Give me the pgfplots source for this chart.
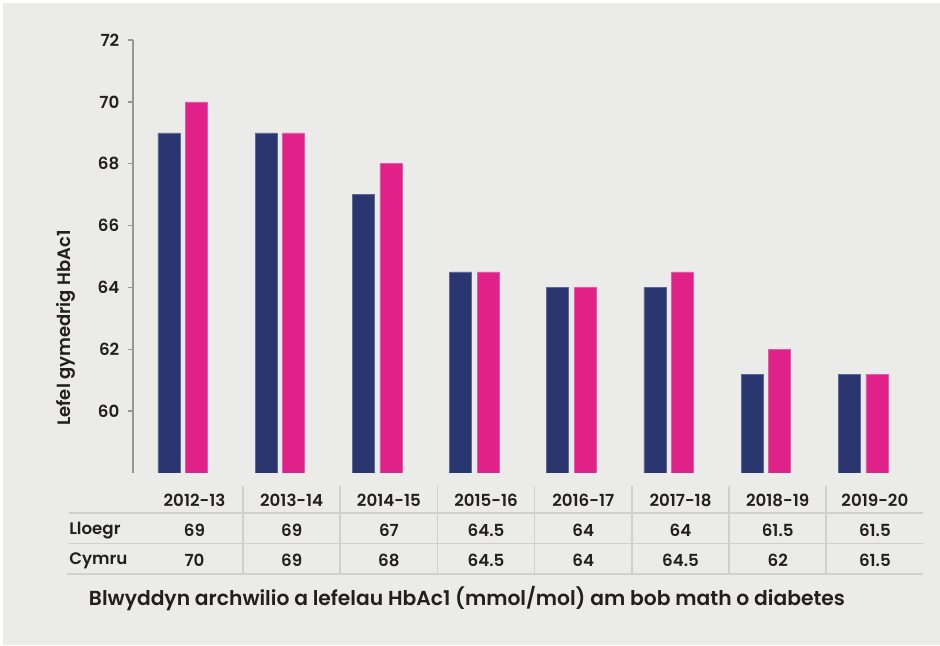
\documentclass[border=0pt]{standalone}
\usepackage{pgfplots}
\pgfplotsset{compat=1.18}
\usepackage{fontspec}
\setmainfont{Poppins}[BoldFont=* SemiBold]

\definecolor{bgcol}{RGB}{235,235,233}
\definecolor{navy}{RGB}{41,54,111}
\definecolor{magenta}{RGB}{224,33,138}
\definecolor{txt}{RGB}{35,31,32}
\definecolor{axgray}{RGB}{150,150,150}
\definecolor{rule}{RGB}{208,208,206}

\begin{document}
\begin{tikzpicture}
% background
\begin{scope}[x=0.75pt,y=0.75pt]
\fill[white] (0,0) rectangle (940,646);
\fill[bgcol] (3,1) rectangle (940,643);
\end{scope}

\begin{axis}[
    at={(99.75pt,129.75pt)}, anchor=south west,
    scale only axis,
    width=592.5pt, height=324.75pt,
    xmin=-0.511, xmax=7.616,
    ymin=58, ymax=72,
    axis y line*=left,
    axis x line=none,
    ytick={60,62,...,72},
    tick align=outside,
    major tick length=3.75pt,
    ytick style={draw=axgray, line width=1pt},
    y axis line style={draw=axgray, line width=1.1pt, -},
    yticklabel style={font=\fontsize{12.5}{14}\selectfont\bfseries, text=txt, xshift=-3pt},
    /pgf/number format/assume math mode=true,
    ybar, bar width=0.226,
]
\addplot[fill=navy, draw=navy!75!white, line width=0.4pt, bar shift=-0.142]
    coordinates {(0,69)(1,69)(2,67)(3,64.5)(4,64)(5,64)(6,61.2)(7,61.2)};
\addplot[fill=magenta, draw=magenta!75!white, line width=0.4pt, bar shift=0.142]
    coordinates {(0,70)(1,69)(2,68)(3,64.5)(4,64)(5,64.5)(6,62)(7,61.2)};
\end{axis}

\begin{scope}[x=0.75pt,y=0.75pt]
% y label
\node[rotate=90, text=txt, font=\fontsize{13.5}{16}\selectfont\bfseries] at (66,318) {Lefel gymedrig HbAc1};

% table rules
\foreach \k in {0,...,6} {
  \draw[rule, line width=1.1pt] ({243+97.2*\k},160) -- ({243+97.2*\k},72);
}
\draw[rule, line width=1.1pt] (69,133) -- (923,133);
\draw[rule, line width=1.1pt] (69,102.3) -- (923,102.3);
\draw[rule, line width=1.8pt] (67,72) -- (923,72);

% table text
\begin{scope}[every node/.style={text=txt, font=\fontsize{12.5}{14}\selectfont\bfseries}]
\foreach \lab [count=\i from 0] in {2012-13,2013-14,2014-15,2015-16,2016-17,2017-18,2018-19,2019-20}
  \node at ({194.5+97.2*\i},146) {\lab};
\foreach \v [count=\i from 0] in {69,69,67,64.5,64,64,61.5,61.5}
  \node at ({194.5+97.2*\i},115.3) {\v};
\foreach \v [count=\i from 0] in {70,69,68,64.5,64,64.5,62,61.5}
  \node at ({194.5+97.2*\i},85.3) {\v};
\node[anchor=west, inner sep=0pt] at (69,115.3) {Lloegr};
\node[anchor=west, inner sep=0pt] at (69,85.3) {Cymru};
\end{scope}

% title
\node[text=txt, font=\fontsize{15.2}{17}\selectfont\bfseries] at (467,47)
  {Blwyddyn archwilio a lefelau HbAc1 (mmol/mol) am bob math o diabetes};
\end{scope}
\end{tikzpicture}
\end{document}
